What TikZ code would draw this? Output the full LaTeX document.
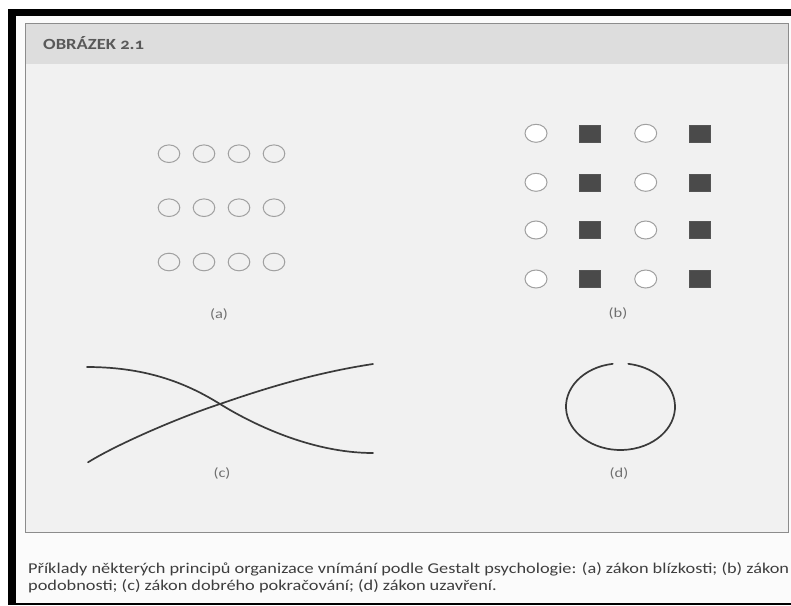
\documentclass[tikz,border=0pt]{standalone}
\usepackage{fontspec}
\usepackage{graphicx}
\setmainfont{Carlito}
\newfontfamily\headfont[Numbers=OldStyle]{Carlito}
\definecolor{panelfill}{HTML}{F1F1F1}
\definecolor{bandfill}{HTML}{DDDDDD}
\definecolor{panelline}{HTML}{8C8C8C}
\definecolor{dotline}{HTML}{A0A0A0}
\definecolor{boxfill}{HTML}{4A4A4A}
\definecolor{inktext}{HTML}{3E3E3E}
\definecolor{labeltext}{HTML}{707070}
\definecolor{curveink}{HTML}{3A3A3A}
% horizontally widened text, as set throughout the figure
\newcommand{\widetext}[2][1.22]{\scalebox{#1}[1]{#2}}
\tikzset{
  dotA/.style={draw=dotline, line width=1pt, fill=panelfill},
  dotB/.style={draw=dotline, line width=1pt, fill=white},
  boxB/.style={draw=boxfill!80!gray, line width=0.5pt, fill=boxfill, minimum width=21pt, minimum height=17pt, inner sep=0pt},
  sublabel/.style={text=labeltext, font=\fontsize{13.5}{15}\selectfont, inner sep=0pt},
  captext/.style={anchor=base west, inner sep=0pt, text=inktext, font=\fontsize{15}{17}\selectfont},
  stroke/.style={draw=curveink, line width=1.7pt, line cap=round},
}
\begin{document}
\begin{tikzpicture}[x=1pt, y=-1pt]
\useasboundingbox (0,0) rectangle (791,605);
% outer frame
\fill[white] (0,0) rectangle (791,605);
\fill[black] (8,9) rectangle (791,605);
\fill[white!97!gray] (16,16) rectangle (791,602.5);
% figure panel
\fill[panelfill] (25,23) rectangle (788,532);
\fill[bandfill] (25,23) rectangle (788,64);
\draw[panelline, line width=0.8pt] (25,23) rectangle (788,532);
\node[anchor=base west, inner sep=0pt, text=black!65, font=\headfont\bfseries\fontsize{15.5}{17}\selectfont] (title) at (43,49.3) {\widetext[1.2]{OBRÁZEK 2.1}};

% (a) proximity: rows of circles
\foreach \yy in {153.7, 207.7, 262} {
  \foreach \xx in {169, 204, 239, 274} {
    \draw[dotA] (\xx,\yy) ellipse [x radius=10.8pt, y radius=8.8pt];
  }
}
\node[sublabel] (la) at (219,314) {\widetext{(a)}};

% (b) similarity: alternating columns of circles and squares
\foreach \yy in {133.3, 182.3, 230, 279} {
  \draw[dotB] (536,\yy) ellipse [x radius=11pt, y radius=9pt];
  \draw[dotB] (645.7,\yy) ellipse [x radius=11pt, y radius=9pt];
  \node[boxB] at (590,\yy) {};
  \node[boxB] at (699.7,\yy) {};
}
\node[sublabel] (lb) at (618,313) {\widetext{(b)}};

% (c) good continuation: two crossing curves
\coordinate (cross) at (220,404);
\draw[stroke] (87,367) .. controls (150,367) and (190,385.4) .. (cross)
              .. controls (250,422.6) and (310,453) .. (373,453);
\draw[stroke] (88,462.3) .. controls (118,443.7) and (180,417.1) .. (cross)
              .. controls (270,386.5) and (320,372) .. (373,364);
\node[sublabel] (lc) at (222,473) {\widetext{(c)}};

% (d) closure: ellipse with a small gap at the top
\draw[stroke] (620.5,406.7) ++(98.2:54.5pt and 43.3pt) arc[start angle=98.2, end angle=441.8, x radius=54.5pt, y radius=43.3pt];
\node[sublabel] (ld) at (619,473) {\widetext{(d)}};

% caption
\node[captext] (cap1) at (28,573.3) {\widetext{Příklady některých principů organizace vnímání podle Gestalt psychologie: (a) zákon blízkosti; (b) zákon}};
\node[captext] (cap2) at (28,590.3) {\widetext{podobnosti; (c) zákon dobrého pokračování; (d) zákon uzavření.}};
\end{tikzpicture}
\end{document}
